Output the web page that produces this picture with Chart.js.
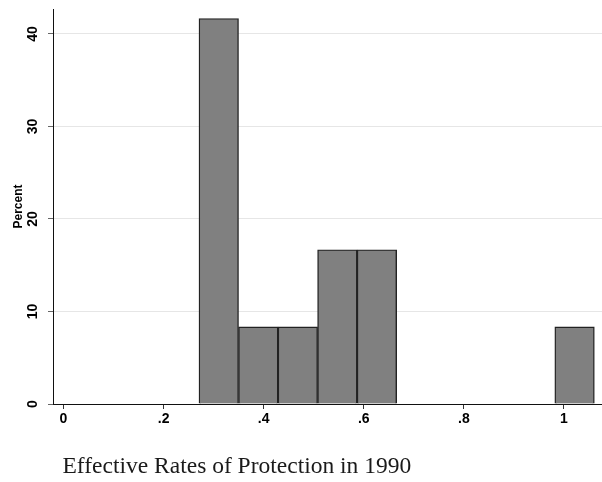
<!DOCTYPE html>
<html>
<head>
<meta charset="utf-8">
<title>Effective Rates of Protection in 1990</title>
<script src="https://cdn.jsdelivr.net/npm/chart.js@4/dist/chart.umd.min.js"></script>
<style>
  html, body { margin: 0; padding: 0; background: #ffffff; }
  #wrap { position: relative; width: 602px; height: 482px; }
  canvas { display: block; }
</style>
</head>
<body>
<div id="wrap"><canvas id="hist" width="602" height="482"></canvas></div>
<script>
// Histogram bins (centres of equal-width bins) and the share of observations in each, in percent
const binCenters = [0.3102, 0.3892, 0.4682, 0.5472, 0.6262, 1.0212];
const percent = [41.67, 8.33, 8.33, 16.67, 16.67, 8.33];

// Axis ticks
const xTickValues = [0, 0.2, 0.4, 0.6, 0.8, 1];
const xTickLabels = ['0', '.2', '.4', '.6', '.8', '1'];
const yTickValues = [0, 10, 20, 30, 40];
const yTickLabels = ['0', '10', '20', '30', '40'];

const xTitle = 'Effective Rates of Protection in 1990';
const yTitle = 'Percent';

const points = binCenters.map((c, i) => ({ x: c, y: percent[i] }));

// Caption under the x axis, left-aligned with the first tick
const captionPlugin = {
  id: 'caption',
  afterDraw(chart) {
    const ctx = chart.ctx;
    const x = chart.scales.x.getPixelForValue(0);
    ctx.save();
    ctx.font = '23.5px "Liberation Serif", "Times New Roman", serif';
    ctx.fillStyle = '#1a1a1a';
    ctx.textAlign = 'left';
    ctx.textBaseline = 'alphabetic';
    ctx.fillText(xTitle, x - 1, 473);
    ctx.restore();
  }
};

new Chart(document.getElementById('hist'), {
  type: 'bar',
  data: {
    datasets: [{
      data: points,
      backgroundColor: '#808080',
      borderColor: '#222222',
      borderWidth: 1.4,
      borderSkipped: 'start',
      barPercentage: 1,
      categoryPercentage: 1
    }]
  },
  options: {
    responsive: false,
    devicePixelRatio: 1,
    animation: false,
    layout: { padding: { top: 9, right: 0, bottom: 0, left: 0 } },
    plugins: {
      legend: { display: false },
      tooltip: { enabled: false }
    },
    scales: {
      x: {
        type: 'linear',
        min: -0.021,
        max: 1.076,
        offset: false,
        grid: {
          offset: false,
          display: true,
          drawOnChartArea: false,
          drawTicks: true,
          tickLength: 5,
          tickColor: '#333333',
          tickWidth: 1
        },
        border: { display: true, color: '#111111', width: 1 },
        ticks: {
          autoSkip: false,
          maxRotation: 0,
          minRotation: 0,
          padding: 2,
          color: '#000000',
          font: { family: '"Liberation Sans", Arial, sans-serif', size: 14, weight: 'bold' },
          callback: (v) => {
            const i = xTickValues.findIndex(t => Math.abs(t - v) < 1e-9);
            return i >= 0 ? xTickLabels[i] : '';
          }
        },
        afterBuildTicks: (scale) => { scale.ticks = xTickValues.map(v => ({ value: v })); },
        afterFit: (scale) => {
          scale.height = 78;
          scale.paddingLeft = 0; scale.paddingRight = 0;
        }
      },
      y: {
        type: 'linear',
        min: 0,
        max: 42.7,
        grid: {
          display: true,
          color: (c) => (c.tick && c.tick.value === 0) ? 'rgba(0,0,0,0)' : '#e6e6e6',
          lineWidth: 1,
          drawTicks: true,
          tickLength: 5,
          tickColor: '#666666',
          tickWidth: 1
        },
        border: { display: true, color: '#111111', width: 1 },
        title: {
          display: true,
          text: yTitle,
          color: '#000000',
          padding: { top: 11, bottom: 0 },
          font: { family: '"Liberation Sans", Arial, sans-serif', size: 12, weight: 'bold' }
        },
        ticks: {
          autoSkip: false,
          minRotation: 90,
          maxRotation: 90,
          crossAlign: 'center',
          padding: 7,
          color: '#000000',
          font: { family: '"Liberation Sans", Arial, sans-serif', size: 14, weight: 'bold' },
          callback: (v) => {
            const i = yTickValues.indexOf(v);
            return i >= 0 ? yTickLabels[i] : '';
          }
        },
        afterBuildTicks: (scale) => { scale.ticks = yTickValues.map(v => ({ value: v })); },
        afterFit: (scale) => {
          scale.width = 53;
          scale.paddingTop = 0; scale.paddingBottom = 0;
        }
      }
    }
  },
  plugins: [captionPlugin]
});
</script>
</body>
</html>
